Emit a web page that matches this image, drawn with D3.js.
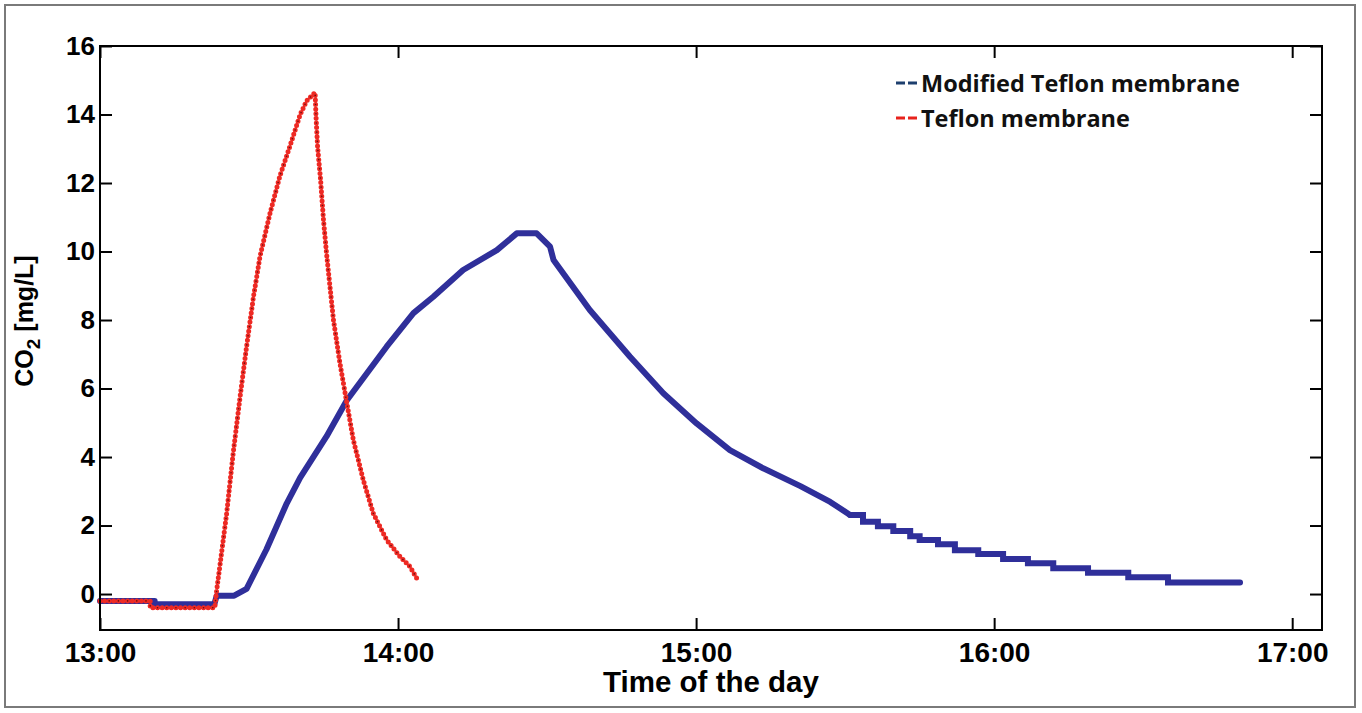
<!DOCTYPE html>
<html>
<head>
<meta charset="utf-8">
<script src="https://cdn.jsdelivr.net/npm/d3@7"></script>
<style>
  html, body { margin: 0; padding: 0; background: #fff; }
  svg { display: block; }
</style>
</head>
<body>
<div id="chart"></div>
<script>
// minutes after 13:00 and CO2 values [mg/L]
const redMinutes = [0, 10.1, 10.1, 23.1, 23.5, 24.2, 25.5, 26.8, 28.2, 29.5, 30.9, 32.2, 34.2, 36.2, 38.2, 40.3, 41.6, 43.3,
    43.5, 43.8, 44.4, 45.0, 45.6, 46.3, 47.0, 48.3, 49.7, 51.0, 53.0, 55.0, 57.7, 60.4, 62.4, 64.1];
const redValues = [-0.2, -0.2, -0.4, -0.4, 0.12, 0.9, 2.36, 4.1, 5.76, 7.22, 8.68, 9.85, 11.1, 12.2, 13.06, 14.0, 14.4, 14.64,
    13.9, 13.06, 12.1, 10.9, 9.95, 8.97, 8.0, 6.74, 5.57, 4.5, 3.33, 2.36, 1.58, 1.09, 0.8, 0.38];

const blueMinutes = [0, 11.0, 11.0, 23.0, 23.5, 27.0, 29.5, 33.5, 37.6, 40.3, 45.6, 49.7, 53.7, 57.7, 63.1, 67.1, 73.1, 79.9,
    83.9, 87.9, 90.6, 91.3, 98.6, 106.7, 113.4, 120.1, 126.8, 133.5, 141.0, 147.0];
const blueValues = [-0.2, -0.2, -0.3, -0.3, -0.05, -0.05, 0.15, 1.3, 2.65, 3.4, 4.6, 5.66, 6.44, 7.22, 8.2, 8.68, 9.46, 10.04,
    10.53, 10.53, 10.14, 9.75, 8.29, 6.93, 5.86, 4.98, 4.2, 3.67, 3.15, 2.69];

// stair-stepped tail of the modified membrane series
const tailMinutes = [151.0, 153.6, 156.6, 159.7, 163.1, 165.0, 168.7, 172.1, 176.8, 181.8, 186.8, 191.9, 198.9, 207.0, 215.0, 229.5];
const tailValues = [2.31, 2.11, 1.98, 1.84, 1.69, 1.58, 1.45, 1.28, 1.17, 1.02, 0.90, 0.75, 0.62, 0.49, 0.34, 0.34];

const yTicks = [0, 2, 4, 6, 8, 10, 12, 14, 16];
const legendLabels = ["Modified Teflon membrane", "Teflon membrane"];

const W = 1362, H = 713;
const plot = { left: 100, right: 1322, top: 46, bottom: 630 };

const base = new Date(2000, 0, 1, 13, 0, 0);
const toDate = m => new Date(base.getTime() + m * 60000);

const x = d3.scaleTime()
    .domain([base, toDate(246)])
    .range([plot.left, plot.right]);
const y = d3.scaleLinear()
    .domain([-1.05, 16])
    .range([plot.bottom, plot.top]);

const svg = d3.select("#chart").append("svg")
    .attr("width", W)
    .attr("height", H);

svg.append("rect")
    .attr("x", 5).attr("y", 5)
    .attr("width", 1350).attr("height", 702)
    .attr("fill", "#fff")
    .attr("stroke", "#7a7a7a")
    .attr("stroke-width", 2);

const zip = (ts, vs) => ts.map((t, i) => ({ t: toDate(t), v: vs[i] }));
const red = zip(redMinutes, redValues);
const blue = zip(blueMinutes, blueValues);
const tail = zip(tailMinutes, tailValues);

const line = d3.line().x(d => x(d.t)).y(d => y(d.v));
const stepLine = d3.line().x(d => x(d.t)).y(d => y(d.v)).curve(d3.curveStepAfter);

const blueColor = "#2f2f9a";

// modified membrane: dense markers, drawn as a thick line
svg.append("path")
    .datum(blue.concat([tail[0]]))
    .attr("d", line)
    .attr("fill", "none")
    .attr("stroke", blueColor)
    .attr("stroke-width", 6)
    .attr("stroke-linejoin", "round")
    .attr("stroke-linecap", "round");
svg.append("path")
    .datum(tail)
    .attr("d", stepLine)
    .attr("fill", "none")
    .attr("stroke", blueColor)
    .attr("stroke-width", 6)
    .attr("stroke-linecap", "round");

// teflon membrane: red dots with dark centres
svg.append("path")
    .datum(red)
    .attr("d", line)
    .attr("fill", "none")
    .attr("stroke", "#ee2a24")
    .attr("stroke-width", 5)
    .attr("stroke-linecap", "round")
    .attr("stroke-dasharray", "0 4.6");
svg.append("path")
    .datum(red)
    .attr("d", line)
    .attr("fill", "none")
    .attr("stroke", "#6a0f0f")
    .attr("stroke-width", 1.6)
    .attr("stroke-linecap", "round")
    .attr("stroke-dasharray", "0 9.2");

// axes, ticks pointing inwards on all four sides
const hourTicks = d3.timeHour.every(1);
const fmt = d3.timeFormat("%H:%M");

const gx = svg.append("g")
    .attr("transform", `translate(0,${plot.bottom})`)
    .call(d3.axisBottom(x).ticks(hourTicks).tickFormat(fmt).tickSizeInner(-12).tickSizeOuter(0).tickPadding(12));
const gxTop = svg.append("g")
    .attr("transform", `translate(0,${plot.top})`)
    .call(d3.axisTop(x).ticks(hourTicks).tickFormat("").tickSizeInner(-12).tickSizeOuter(0));
const gy = svg.append("g")
    .attr("transform", `translate(${plot.left},0)`)
    .call(d3.axisLeft(y).tickValues(yTicks).tickSizeInner(-12).tickSizeOuter(0).tickPadding(5));
const gyRight = svg.append("g")
    .attr("transform", `translate(${plot.right},0)`)
    .call(d3.axisRight(y).tickValues(yTicks).tickFormat("").tickSizeInner(-12).tickSizeOuter(0));

[gx, gxTop, gy, gyRight].forEach(g => {
    g.select(".domain").remove();
    g.selectAll(".tick line").attr("stroke", "#000").attr("stroke-width", 2);
});
gx.selectAll("text")
    .attr("font-family", "Liberation Sans, Arial, sans-serif")
    .attr("font-weight", "bold")
    .attr("font-size", 28)
    .attr("fill", "#000");
gy.selectAll("text")
    .attr("font-family", "Liberation Sans, Arial, sans-serif")
    .attr("font-weight", "bold")
    .attr("font-size", 26)
    .attr("fill", "#000");

// box
svg.append("rect")
    .attr("x", plot.left).attr("y", plot.top)
    .attr("width", plot.right - plot.left).attr("height", plot.bottom - plot.top)
    .attr("fill", "none")
    .attr("stroke", "#000")
    .attr("stroke-width", 2);

// axis titles
svg.append("text")
    .attr("x", (plot.left + plot.right) / 2)
    .attr("y", 692)
    .attr("text-anchor", "middle")
    .attr("font-family", "Liberation Sans, Arial, sans-serif")
    .attr("font-weight", "bold")
    .attr("font-size", 29.5)
    .text("Time of the day");

const yLabel = svg.append("text")
    .attr("transform", "translate(33,321) rotate(-90)")
    .attr("text-anchor", "middle")
    .attr("font-family", "Liberation Sans, Arial, sans-serif")
    .attr("font-weight", "bold")
    .attr("font-size", 25);
yLabel.append("tspan").text("CO");
yLabel.append("tspan").attr("dy", 7).attr("font-size", 19).text("2");
yLabel.append("tspan").attr("dy", -7).text(" [mg/L]");

// legend
const legendColors = ["#1d3f6e", "#e8221c"];
const legend = svg.append("g").attr("transform", "translate(896,0)");
legendLabels.forEach((label, i) => {
    const cy = 83 + i * 35;
    legend.append("line")
        .attr("x1", 0).attr("x2", 22)
        .attr("y1", cy).attr("y2", cy)
        .attr("stroke", legendColors[i])
        .attr("stroke-width", 3)
        .attr("stroke-dasharray", "9 3");
    legend.append("text")
        .attr("x", 25)
        .attr("y", cy + 8.5)
        .attr("font-family", "Open Sans, sans-serif")
        .attr("font-weight", "bold")
        .attr("font-size", 23.5)
        .attr("fill", "#111")
        .text(label);
});
</script>
</body>
</html>
